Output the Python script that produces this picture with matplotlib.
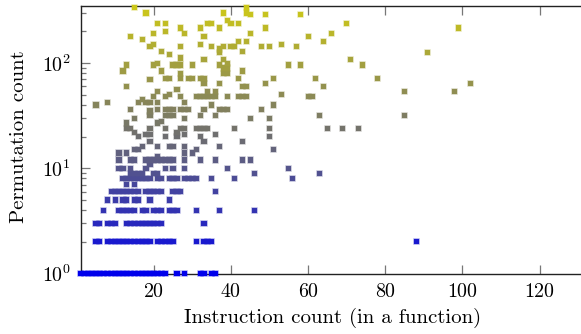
import numpy as np
import matplotlib
matplotlib.use("Agg")
import matplotlib.pyplot as plt
from matplotlib.colors import LinearSegmentedColormap

plt.rcParams['font.family'] = 'cmr10'
plt.rcParams['mathtext.fontset'] = 'cm'
plt.rcParams['axes.formatter.use_mathtext'] = True

# permutation count levels and the instruction counts seen at each level
perm_levels = [1, 2, 3, 4, 5, 6, 7, 8, 9, 10, 11, 12, 13, 14, 15, 16, 18, 20, 21, 22,
               24, 27, 28, 30, 32, 35, 36, 40, 42, 45, 48, 50, 54, 56, 60, 64, 70, 72,
               80, 84, 90, 96, 100, 108, 112, 120, 126, 128, 136, 144, 150, 160, 168,
               180, 192, 200, 216, 240, 252, 288, 300, 336]
instr_at_level = [
    list(range(1, 24)) + [26, 28, 32, 33, 35, 36],                     # 1
    [5, 6] + list(range(8, 20)) + [21, 22, 23, 24, 25, 31, 33, 34, 35, 88],  # 2
    [5, 6, 8, 9, 10] + list(range(13, 23)) + [33],                      # 3
    [7, 11, 12, 13, 14, 15, 17, 18, 20, 21, 22, 24, 25, 26, 31, 37, 46],  # 4
    [8, 10, 12, 13, 15, 16, 19, 24],                                    # 5
    list(range(9, 17)) + [18, 19, 20, 21, 22, 25, 26, 27, 36],          # 6
    [13, 15],                                                           # 7
    list(range(12, 20)) + [21, 22, 24, 25, 26, 28, 29, 30, 31, 35, 41, 56],  # 8
    [14, 15, 16, 17, 20, 21, 46, 63],                                   # 9
    [11, 12, 14, 18, 23, 25, 28, 39, 55],                               # 10
    [19],                                                               # 11
    [11, 14, 15] + list(range(18, 26)) + [28, 32, 36, 43, 45],          # 12
    [21],                                                               # 13
    [11, 13, 28, 30],                                                   # 14
    [15, 16, 31, 51],                                                   # 15
    [17, 21, 24, 25, 28, 37],                                           # 16
    [19, 33, 43],                                                       # 18
    [16, 23, 26, 32, 50],                                               # 20
    [18, 19, 28, 36],                                                   # 21
    [15, 26],                                                           # 22
    [13, 14, 19, 23, 27, 28, 31, 32, 33, 34, 41, 50, 65, 69, 73],       # 24
    [13, 21],                                                           # 27
    [22],                                                               # 28
    [15, 28, 45, 50],                                                   # 30
    [19, 23, 24, 25, 32, 36, 63, 85],                                   # 32
    [19],                                                               # 35
    [14, 21, 23, 24, 25, 27, 28, 29, 33, 37, 38, 39, 48],               # 36
    [5, 35, 51],                                                        # 40
    [8, 16, 18, 19, 21, 28],                                            # 42
    [17],                                                               # 45
    [20, 23, 27, 31, 32, 33, 34, 35, 36, 39, 42, 43, 44, 60, 61],       # 48
    [24, 53],                                                           # 50
    [21, 34, 36, 85, 98],                                               # 54
    [26],                                                               # 56
    [13, 43, 44, 64],                                                   # 60
    [33, 37, 49, 102],                                                  # 64
    [19],                                                               # 70
    [23, 24, 27, 29, 30, 32, 33, 42, 51, 62, 78],                       # 72
    [27, 38, 39],                                                       # 80
    [12, 22, 43],                                                       # 84
    [38, 39],                                                           # 90
    [13, 20, 25, 26, 27, 30, 37, 55, 58, 74],                           # 96
    [21, 39],                                                           # 100
    [33, 38, 71],                                                       # 108
    [27],                                                               # 112
    [24],                                                               # 120
    [37, 91],                                                           # 126
    [22, 43],                                                           # 128
    [37],                                                               # 136
    [19, 27, 35, 38, 40, 41, 48, 50, 57],                               # 144
    [20, 32, 53],                                                       # 150
    [42, 44, 64],                                                       # 160
    [17],                                                               # 168
    [14, 33, 60],                                                       # 180
    [20, 28, 45, 66],                                                   # 192
    [23],                                                               # 200
    [27, 32, 37, 49, 99],                                               # 216
    [21, 23, 34, 35, 40, 42, 70],                                       # 240
    [39],                                                               # 252
    [45, 49, 58],                                                       # 288
    [18, 38, 44],                                                       # 300
    [15, 44],                                                           # 336
]

xs = []
ys = []
for lvl, row in zip(perm_levels, instr_at_level):
    xs += row
    ys += [lvl] * len(row)
xs = np.array(xs)
ys = np.array(ys)

cmap = LinearSegmentedColormap.from_list(
    "by", [(0.0, 0.0, 0.92), (0.42, 0.42, 0.45), (0.80, 0.78, 0.10)])
t = np.log10(ys) / np.log10(336)
face = cmap(t)
edge = face.copy()
edge[:, 3] = 0.3

fig = plt.figure(figsize=(5.81, 3.34), dpi=100)
ax = fig.add_axes([80.5 / 581, 60.5 / 334, 503.5 / 581, 267.5 / 334])
ax.scatter(xs, ys, marker='s', s=14, c=face, edgecolors=edge, linewidths=1.4,
           clip_on=False, zorder=3)

ax.set_yscale('log')
ax.set_xlim(1, 131.5)
ax.set_ylim(1, 349)
ax.set_xticks([20, 40, 60, 80, 100, 120])
ax.tick_params(which='both', direction='in', top=True, right=False,
               labelsize=14.4, color='#777777', width=0.9)
ax.tick_params(which='major', length=6.2, pad=7)
ax.tick_params(which='minor', length=3.6)
ax.tick_params(axis='x', which='minor', bottom=False, top=False)
for sp in ax.spines.values():
    sp.set_linewidth(1.0)
    sp.set_color('#222222')

ax.set_xlabel('Instruction count (in a function)', fontsize=15, labelpad=5)
ax.set_ylabel('Permutation count', fontsize=15)
ax.yaxis.set_label_coords(-0.105, 0.51)

fig.savefig('out.png', dpi=100)
